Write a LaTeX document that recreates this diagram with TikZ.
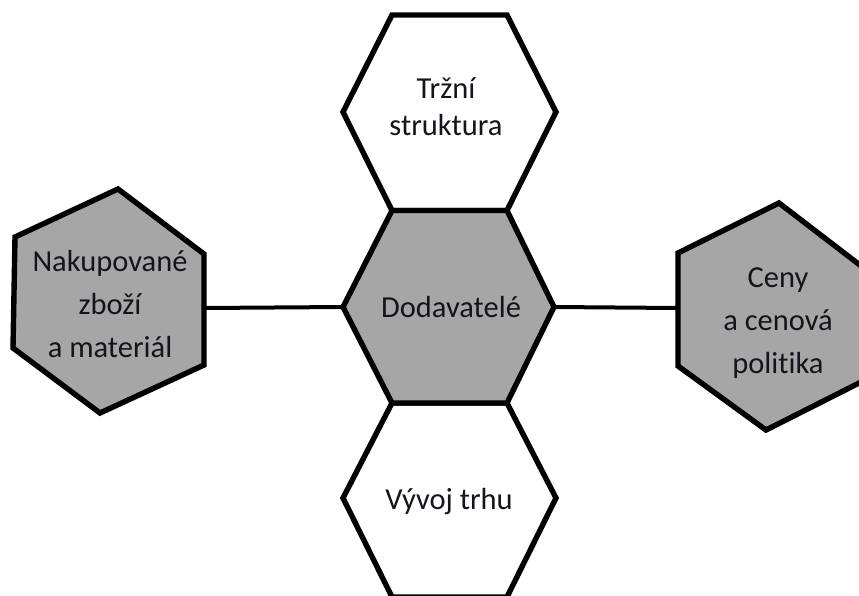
\documentclass[tikz,border=0pt]{standalone}
\usepackage{fontspec}
\setmainfont{Carlito}[Ligatures=NoCommon]
\definecolor{hexgray}{RGB}{166,166,166}
\definecolor{txt}{RGB}{20,20,30}
\tikzset{
  hexline/.style={draw=black, line width=5.4pt, line join=miter},
  grayhex/.style={hexline, fill=hexgray},
  whitehex/.style={hexline, fill=white},
  link/.style={draw=black, line width=4pt},
  lbl/.style={text=txt, align=center, anchor=base, inner sep=0pt,
    font=\fontsize{30.5}{43}\selectfont},
}
\begin{document}
\begin{tikzpicture}[x=1pt, y=-1pt]
\useasboundingbox (0,0) rectangle (859,595);
\clip (0,0) rectangle (859,595);
\fill[white] (0,0) rectangle (859,595);

% connector end points
\coordinate (Le) at (204,308);
\coordinate (Cw) at (343,307);
\coordinate (Ce) at (554,307);
\coordinate (Rw) at (678,308);

\draw[link] (Le) -- (Cw);
\draw[link] (Ce) -- (Rw);

% top hexagon
\path[whitehex] (392,15) -- (507,15) -- (556,112) -- (507,210.5) -- (392,210.5) -- (343,112) -- cycle;
% bottom hexagon
\path[whitehex] (392,403) -- (507,403) -- (556,498) -- (507,597) -- (392,597) -- (343,498) -- cycle;
% centre hexagon
\path[grayhex] (392,210.5) -- (507,210.5) -- (Ce) -- (507,403) -- (392,403) -- (Cw) -- cycle;
% left hexagon
\path[grayhex] (118,189) -- (204,254) -- (204,365) -- (100,413) -- (13,348) -- (15,237) -- cycle;
% right hexagon
\path[grayhex] (779,203) -- (869,272) -- (867,379) -- (766,430) -- (678,366) -- (678,253) -- cycle;

\node[lbl] (top) at (446,135) {Tržní\\[-6pt]struktura};
\node[lbl] (mid) at (451,317) {Dodavatelé};
\node[lbl] (bot) at (449,509) {Vývoj trhu};
\node[lbl] (left) at (110,357) {Nakupované\\zboží\\a materiál};
\node[lbl] (right) at (778,373) {Ceny\\a cenová\\politika};
\end{tikzpicture}
\end{document}
